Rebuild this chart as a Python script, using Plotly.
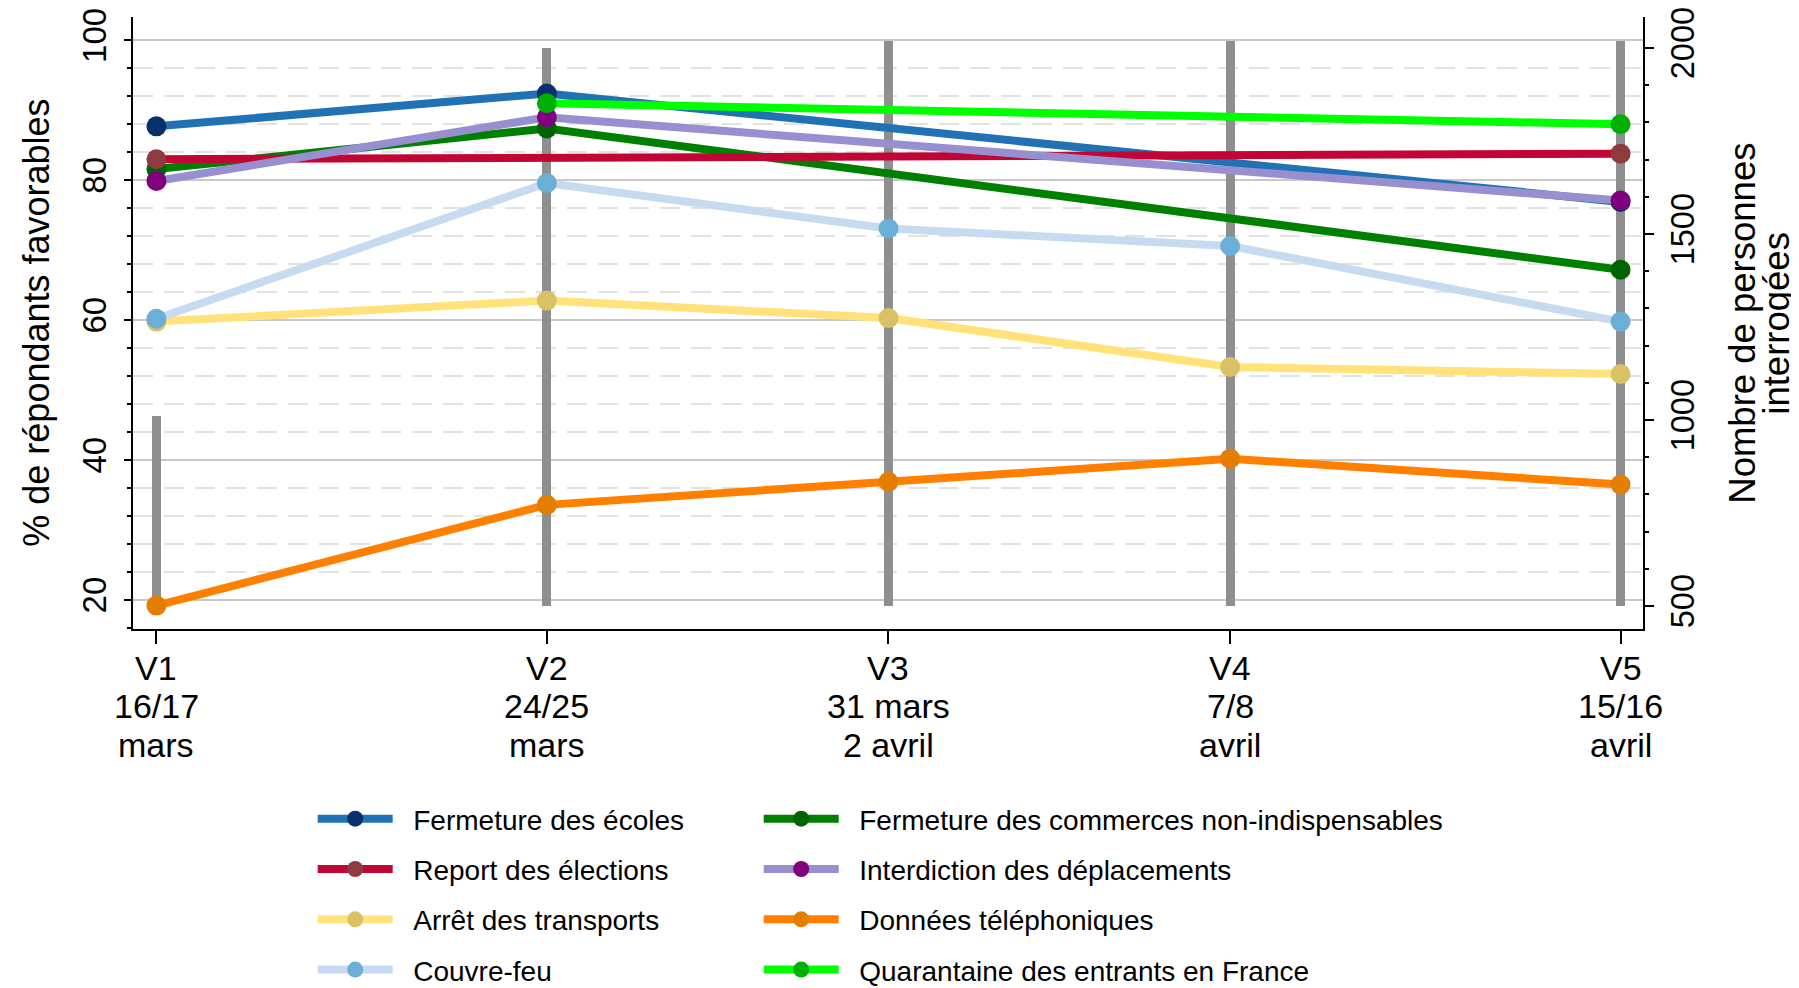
import plotly.graph_objects as go

# ---------------- data ----------------
waves = ["V1", "V2", "V3", "V4", "V5"]
wave_day = [0, 8, 15, 22, 30]  # days after the first wave (16/17 mars)
wave_dates = ["16/17", "24/25", "31 mars", "7/8", "15/16"]
wave_months = ["mars", "mars", "2 avril", "avril", "avril"]
respondents = [1010, 2000, 2020, 2020, 2020]

ecoles = [87.7, 92.4, None, None, 76.9]
commerces = [81.6, 87.4, None, None, 67.2]
elections = [83.0, None, None, None, 83.8]
deplacements = [79.9, 89.0, None, None, 77.1]
transports = [59.8, 62.8, 60.3, 53.3, 52.3]
donnees = [19.2, 33.6, 36.9, 40.2, 36.5]
couvre_feu = [60.2, 79.6, 73.1, 70.6, 59.8]
quarantaine = [None, 91.0, None, None, 88.0]

series_names = [
    "Fermeture des écoles",
    "Fermeture des commerces non-indispensables",
    "Report des élections",
    "Interdiction des déplacements",
    "Arrêt des transports",
    "Données téléphoniques",
    "Couvre-feu",
    "Quarantaine des entrants en France",
]
series_values = [ecoles, commerces, elections, deplacements,
                 transports, donnees, couvre_feu, quarantaine]
line_colors = ["#2171b5", "#008000", "#c10534", "#978fd0",
               "#ffe27a", "#ff8000", "#c6dbef", "#00ff00"]
marker_colors = ["#08306b", "#006400", "#8e3a40", "#800080",
                 "#dac163", "#e37e00", "#6baed6", "#00b000"]
legend_column = ["legend", "legend2", "legend", "legend2",
                 "legend", "legend2", "legend", "legend2"]

FONT = "Liberation Sans, Arial, Helvetica, sans-serif"

# page body has an 8px margin: work in figure coordinates
OFF = 8
W, H = 1799 - OFF, 988 - OFF
# plot-area geometry (target page pixels)
L, R, T, B = 133.3 - OFF, 1643.3 - OFF, 16.7 - OFF, 629.0 - OFF

fig = go.Figure()

# respondents bars (count axis = primary axis 'y', on the right)
fig.add_trace(go.Bar(
    x=wave_day, y=[n - 500 for n in respondents], base=500,
    width=0.185, marker=dict(color="#8f8f8f", line=dict(width=0)),
    yaxis="y", showlegend=False, hoverinfo="skip",
))

NBSP = "\u00a0"
for name, vals, lc, mc, lg in zip(series_names, series_values, line_colors,
                                  marker_colors, legend_column):
    fig.add_trace(go.Scatter(
        x=wave_day, y=vals, name=NBSP * 2 + name, mode="lines+markers",
        connectgaps=True, yaxis="y2",
        line=dict(color=lc, width=8),
        marker=dict(color=mc, size=20, line=dict(width=0)),
        legend=lg, legendgroup=name,
    ))

# x tick label annotations (three tight lines)
for xv, a, b, c in zip(wave_day, waves, wave_dates, wave_months):
    for txt, shift in ((a, -39), (b, -77), (c, -116)):
        fig.add_annotation(x=xv, xref="x", y=0, yref="paper", yshift=shift,
                           text=txt, showarrow=False, yanchor="middle",
                           xanchor="center",
                           font=dict(family=FONT, size=34, color="black"))

# axis titles
fig.add_annotation(x=0, xref="paper", y=0.5, yref="paper", xshift=36 - 133.3,
                   text="% de répondants favorables", textangle=-90,
                   showarrow=False, xanchor="center", yanchor="middle",
                   font=dict(family=FONT, size=36, color="black"))
fig.add_annotation(x=1, xref="paper", y=0.5, yref="paper", xshift=1742 - 1643.3,
                   text="Nombre de personnes", textangle=-90,
                   showarrow=False, xanchor="center", yanchor="middle",
                   font=dict(family=FONT, size=36.5, color="black"))
fig.add_annotation(x=1, xref="paper", y=0.5, yref="paper", xshift=1776 - 1643.3,
                   text="interrogées", textangle=-90,
                   showarrow=False, xanchor="center", yanchor="middle",
                   font=dict(family=FONT, size=36.5, color="black"))

pct_range = [15.857, 103.33]
cnt_range = [438.2, 2083.3]

legend_common = dict(
    orientation="v", xanchor="left", yanchor="top",
    xref="paper", yref="container",
    font=dict(family=FONT, size=28, color="black"),
    bgcolor="rgba(0,0,0,0)", borderwidth=0,
    itemwidth=75, tracegroupgap=10.9, itemclick=False,
)
legend_top = 1 - (794 - OFF) / H

# inner halves of the ticks that cross the vertical axes
inner_ticks = dict(
    anchor="x", overlaying="y", tickmode="linear", ticks="inside",
    tickwidth=1.5, tickcolor="black", showticklabels=False,
    showgrid=False, showline=False, zeroline=False, automargin=False,
)

fig.update_layout(
    width=W, height=H,
    margin=dict(l=L, r=W - R, t=T, b=H - B, pad=0, autoexpand=False),
    paper_bgcolor="white", plot_bgcolor="white",
    font=dict(family=FONT, color="black"),
    bargap=0,
    xaxis=dict(
        range=[-0.48, 30.46], tickmode="array", tickvals=wave_day,
        ticktext=["" for _ in waves], showticklabels=False,
        ticks="outside", ticklen=13, tickwidth=1.5, tickcolor="black",
        showline=True, linecolor="black", linewidth=2,
        showgrid=False, zeroline=False, automargin=False,
    ),
    yaxis=dict(  # count axis (right)
        range=cnt_range, side="right", anchor="x",
        tickmode="linear", tick0=0, dtick=500,
        ticks="outside", ticklen=9, tickwidth=1.5, tickcolor="black",
        tickangle=-90, tickfont=dict(family=FONT, size=32.5, color="black"),
        ticklabelstandoff=1, ticklabeloverflow="allow",
        minor=dict(dtick=100, ticks="outside", ticklen=4, tickwidth=1.5,
                   tickcolor="black", showgrid=False),
        showline=True, linecolor="black", linewidth=2,
        showgrid=False, zeroline=False, automargin=False,
    ),
    yaxis2=dict(  # percentage axis (left)
        range=pct_range, side="left", overlaying="y", anchor="x",
        tickmode="linear", tick0=0, dtick=20,
        ticks="outside", ticklen=7, tickwidth=1.5, tickcolor="black",
        tickangle=-90, tickfont=dict(family=FONT, size=33, color="black"),
        ticklabelstandoff=5, ticklabeloverflow="allow",
        showgrid=True, gridcolor="#c8c8c8", gridwidth=1.5,
        minor=dict(dtick=4, ticks="outside", ticklen=4, tickwidth=1.5,
                   tickcolor="black", showgrid=True, gridcolor="#e2e2e2",
                   gridwidth=1.5, griddash="20px,11px"),
        showline=True, linecolor="black", linewidth=2, zeroline=False,
        automargin=False,
    ),
    yaxis3=dict(range=pct_range, side="left", tick0=0, dtick=20, ticklen=8,
                minor=dict(dtick=4, ticks="inside", ticklen=4, tickwidth=1.5,
                           tickcolor="black", showgrid=False),
                **inner_ticks),
    yaxis4=dict(range=cnt_range, side="right", tick0=0, dtick=500, ticklen=6,
                minor=dict(dtick=100, ticks="inside", ticklen=2, tickwidth=1.5,
                           tickcolor="black", showgrid=False),
                **inner_ticks),
    legend=dict(x=(313 - 133.3) / 1510, y=legend_top, **legend_common),
    legend2=dict(x=(759 - 133.3) / 1510, y=legend_top, **legend_common),
)

fig.write_html("out.html")
